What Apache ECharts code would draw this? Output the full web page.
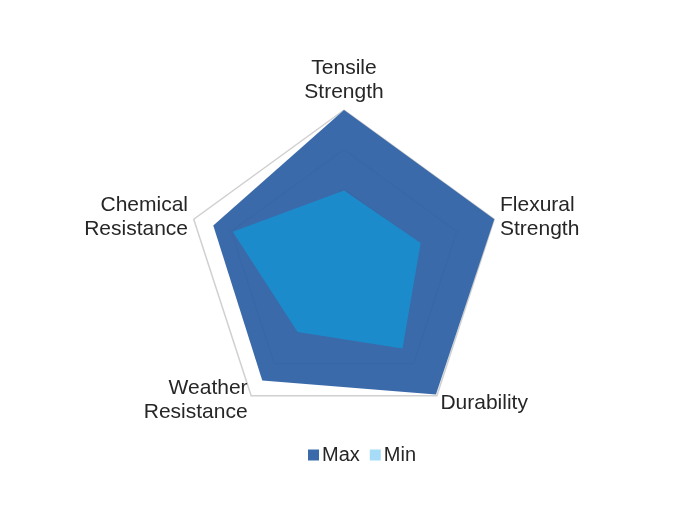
<!DOCTYPE html>
<html>
<head>
<meta charset="utf-8">
<script src="https://cdn.jsdelivr.net/npm/echarts@6/dist/echarts.min.js"></script>
<style>
html,body{margin:0;padding:0;background:#fff;}
#main{width:690px;height:517px;}
</style>
</head>
<body>
<div id="main"></div>
<script>
// Indicators in ECharts order (counter-clockwise from top)
var indicators = ['Tensile\nStrength', 'Chemical\nResistance', 'Weather\nResistance', 'Durability', 'Flexural\nStrength'];
var indicatorMax = 100;
var maxValues = [100, 87, 88, 99, 100];
var minValues = [49, 74, 50, 63, 51];
var seriesNames = ['Max', 'Min'];

var chart = echarts.init(document.getElementById('main'));
chart.setOption({
  backgroundColor: '#ffffff',
  animation: false,
  legend: {
    data: seriesNames,
    top: 440,
    left: 303,
    itemWidth: 11,
    itemHeight: 11,
    itemGap: 10,
    icon: 'rect',
    textStyle: { fontFamily: 'Liberation Sans', fontSize: 20, color: '#262626', padding: [0, 0, 0, -2] }
  },
  radar: {
    center: [344, 268],
    radius: 158,
    shape: 'polygon',
    splitNumber: 4,
    startAngle: 90,
    indicator: indicators.map(function (n) { return { name: n, max: indicatorMax, min: 0 }; }),
    axisName: {
      fontFamily: 'Liberation Sans',
      fontSize: 21,
      color: '#262626',
      lineHeight: 24,
      formatter: function (name) {
        return name === 'Durability' ? '{d|' + name + '}' : name;
      },
      rich: {
        d: { fontFamily: 'Liberation Sans', fontSize: 21, color: '#262626', lineHeight: 24, padding: [5, 0, 0, 0] }
      }
    },
    nameGap: 6,
    splitArea: { show: true, areaStyle: { color: ['#ffffff'] } },
    splitLine: { lineStyle: { color: '#d0d0d0', width: 1.5 } },
    axisLine: { show: false }
  },
  series: [{
    type: 'radar',
    symbol: 'none',
    data: [
      {
        name: seriesNames[0],
        value: maxValues,
        itemStyle: { color: '#3b6aaa' },
        lineStyle: { width: 0, color: '#3b6aaa' },
        areaStyle: { color: '#2c5fa4', opacity: 0.93 }
      },
      {
        name: seriesNames[1],
        value: minValues,
        itemStyle: { color: '#a6dcf7' },
        lineStyle: { width: 0, color: '#1b8bcb' },
        areaStyle: { color: '#198ecd', opacity: 0.93 }
      }
    ]
  }]
});
</script>
</body>
</html>
